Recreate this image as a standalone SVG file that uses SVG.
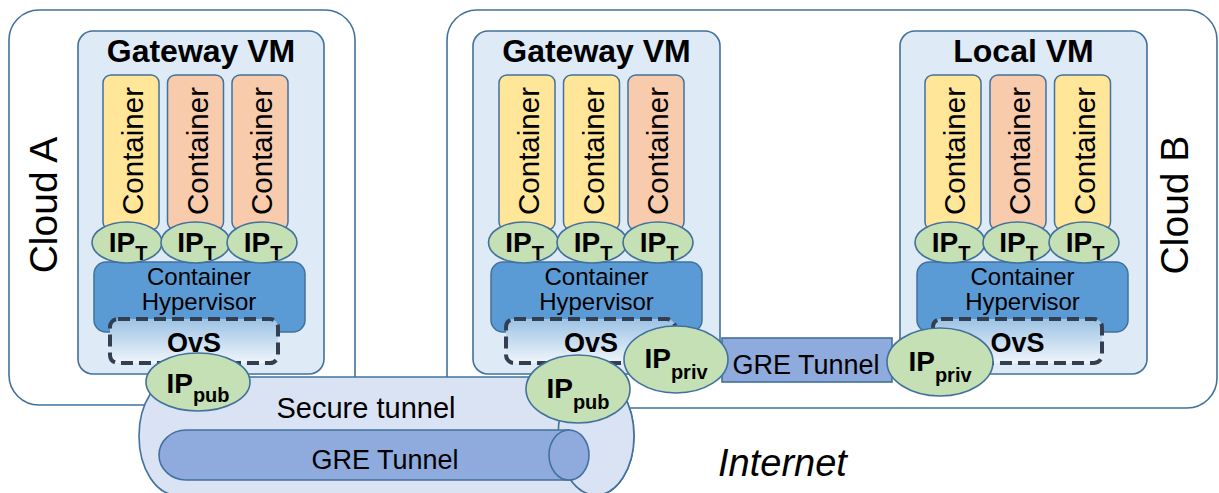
<svg xmlns="http://www.w3.org/2000/svg" width="1219" height="493" viewBox="0 0 1219 493">
<style>
text{font-family:"Liberation Sans",Arial,sans-serif;fill:#000}
.cloud{fill:#fff;stroke:#41719c;stroke-width:1.6}
.vm{fill:#deebf7;stroke:#41719c;stroke-width:1.6}
.cy{fill:#ffe699;stroke:#41719c;stroke-width:1.5}
.co{fill:#f8cbad;stroke:#41719c;stroke-width:1.5}
.ip{fill:#c5e0b4;stroke:#41719c;stroke-width:1.6}
.hyp{fill:#5b9bd5;stroke:#41719c;stroke-width:1.5}
.ovs{fill:url(#ovsg);stroke:#333f50;stroke-width:4;stroke-dasharray:12 6}
.tun{fill:#dae3f3;stroke:#41719c;stroke-width:1.6}
.gre{fill:#8faadc;stroke:#41719c;stroke-width:1.6}
.title{font-size:32px;font-weight:bold;text-anchor:middle}
.ctxt{font-size:29.5px;text-anchor:middle}
.htxt{font-size:24px;text-anchor:middle}
.otxt{font-size:27px;font-weight:bold;text-anchor:middle}
.iptxt{font-size:28px;font-weight:bold;text-anchor:middle}
.sub{font-size:20px}
.cl{font-size:39px;text-anchor:middle}
.big{font-size:27px;text-anchor:middle}
</style>
<defs>
<linearGradient id="ovsg" x1="0" y1="0" x2="0" y2="1">
<stop offset="0" stop-color="#9cc2e5"/>
<stop offset="1" stop-color="#f0f5fb"/>
</linearGradient>
</defs>

<g id="cloud-a">
<rect class="cloud" x="9" y="10" width="346" height="395" rx="30"/>
<text class="cl" transform="translate(57,205) rotate(-90)">Cloud A</text>
</g>
<g id="cloud-b">
<rect class="cloud" x="447" y="10" width="770" height="398" rx="30"/>
<text class="cl" transform="translate(1188,205) rotate(-90)">Cloud B</text>
</g>

<g id="gateway-vm-a">
<rect class="vm" x="78" y="31" width="246" height="343" rx="15"/>
<text class="title" x="201" y="62">Gateway VM</text>
<rect class="cy" x="103" y="75" width="56" height="155" rx="8"/>
<rect class="co" x="167.5" y="75" width="56" height="155" rx="8"/>
<rect class="co" x="232" y="75" width="56" height="155" rx="8"/>
<text class="ctxt" transform="translate(143,151) rotate(-90)">Container</text>
<text class="ctxt" transform="translate(207.5,151) rotate(-90)">Container</text>
<text class="ctxt" transform="translate(272,151) rotate(-90)">Container</text>
<rect class="hyp" x="94" y="262" width="211" height="70" rx="12"/>
<text class="htxt" x="199" y="285">Container</text>
<text class="htxt" x="199" y="310">Hypervisor</text>
<ellipse class="ip" cx="127" cy="242.5" rx="35" ry="20.5"/>
<ellipse class="ip" cx="195.5" cy="242.5" rx="34.5" ry="20.5"/>
<ellipse class="ip" cx="262" cy="242.5" rx="35" ry="20.5"/>
<text class="iptxt" x="128" y="252">IP<tspan class="sub" dy="8">T</tspan></text>
<text class="iptxt" x="196.5" y="252">IP<tspan class="sub" dy="8">T</tspan></text>
<text class="iptxt" x="263" y="252">IP<tspan class="sub" dy="8">T</tspan></text>
<rect class="ovs" x="110" y="319" width="168" height="44" rx="8"/>
<text class="otxt" x="194" y="352">OvS</text>
</g>

<g id="gateway-vm-b">
<rect class="vm" x="473" y="31" width="247" height="343" rx="15"/>
<text class="title" x="596.5" y="62">Gateway VM</text>
<rect class="cy" x="499" y="75" width="56" height="155" rx="8"/>
<rect class="cy" x="563.5" y="75" width="56" height="155" rx="8"/>
<rect class="co" x="628" y="75" width="56" height="155" rx="8"/>
<text class="ctxt" transform="translate(539,151) rotate(-90)">Container</text>
<text class="ctxt" transform="translate(603.5,151) rotate(-90)">Container</text>
<text class="ctxt" transform="translate(668,151) rotate(-90)">Container</text>
<rect class="hyp" x="491" y="262" width="211" height="70" rx="12"/>
<text class="htxt" x="596.5" y="285">Container</text>
<text class="htxt" x="596.5" y="310">Hypervisor</text>
<ellipse class="ip" cx="523.5" cy="242.5" rx="35" ry="20.5"/>
<ellipse class="ip" cx="592" cy="242.5" rx="35" ry="20.5"/>
<ellipse class="ip" cx="658" cy="242.5" rx="35" ry="20.5"/>
<text class="iptxt" x="524.5" y="252">IP<tspan class="sub" dy="8">T</tspan></text>
<text class="iptxt" x="593" y="252">IP<tspan class="sub" dy="8">T</tspan></text>
<text class="iptxt" x="659" y="252">IP<tspan class="sub" dy="8">T</tspan></text>
<rect class="ovs" x="506" y="319" width="169" height="44" rx="8"/>
<text class="otxt" x="591" y="352">OvS</text>
</g>

<g id="local-vm">
<rect class="vm" x="900" y="31" width="247" height="343" rx="15"/>
<text class="title" x="1023.5" y="62">Local VM</text>
<rect class="cy" x="925" y="75" width="56" height="155" rx="8"/>
<rect class="co" x="990" y="75" width="56" height="155" rx="8"/>
<rect class="cy" x="1054.5" y="75" width="56" height="155" rx="8"/>
<text class="ctxt" transform="translate(965,151) rotate(-90)">Container</text>
<text class="ctxt" transform="translate(1030,151) rotate(-90)">Container</text>
<text class="ctxt" transform="translate(1094.5,151) rotate(-90)">Container</text>
<rect class="hyp" x="917" y="262" width="211" height="70" rx="12"/>
<text class="htxt" x="1022.5" y="285">Container</text>
<text class="htxt" x="1022.5" y="310">Hypervisor</text>
<ellipse class="ip" cx="950" cy="242.5" rx="35" ry="20.5"/>
<ellipse class="ip" cx="1017.5" cy="242.5" rx="34.5" ry="20.5"/>
<ellipse class="ip" cx="1084" cy="242.5" rx="35" ry="20.5"/>
<text class="iptxt" x="951" y="252">IP<tspan class="sub" dy="8">T</tspan></text>
<text class="iptxt" x="1018.5" y="252">IP<tspan class="sub" dy="8">T</tspan></text>
<text class="iptxt" x="1085" y="252">IP<tspan class="sub" dy="8">T</tspan></text>
<rect class="ovs" x="933" y="319" width="169" height="44" rx="8"/>
<text class="otxt" x="1017.5" y="352">OvS</text>
</g>

<g id="connectors">
<g id="secure-tunnel">
<path class="tun" d="M177,377 L596,377 A38,59 0 0 1 596,495 L177,495 A38,59 0 0 1 177,377 Z"/>
<ellipse class="tun" cx="596" cy="436" rx="38" ry="59"/>
<text class="big" x="366" y="418" style="font-size:29px">Secure tunnel</text>
<path class="gre" d="M186,430 L569,430 L569,480 L186,480 A27,25 0 0 1 186,430 Z"/>
<ellipse class="gre" cx="569" cy="455" rx="20" ry="25"/>
<text class="big" x="385" y="469">GRE Tunnel</text>
</g>
<g id="gre-tunnel">
<rect class="gre" x="722" y="338" width="170" height="44"/>
<text class="big" x="806" y="374">GRE Tunnel</text>
</g>
</g>

<g id="ip-pub-a">
<ellipse class="ip" cx="198" cy="382" rx="52" ry="29"/>
<text class="iptxt" x="198" y="393">IP<tspan class="sub" dy="9">pub</tspan></text>
</g>
<g id="ip-pub-b">
<ellipse class="ip" cx="578" cy="389" rx="52" ry="34"/>
<text class="iptxt" x="578" y="398">IP<tspan class="sub" dy="11">pub</tspan></text>
</g>
<g id="ip-priv-b-gw">
<ellipse class="ip" cx="676" cy="359.5" rx="52" ry="33.5"/>
<text class="iptxt" x="676" y="368">IP<tspan class="sub" dy="11">priv</tspan></text>
</g>
<g id="ip-priv-local">
<ellipse class="ip" cx="940" cy="362" rx="53" ry="34"/>
<text class="iptxt" x="940" y="371">IP<tspan class="sub" dy="11">priv</tspan></text>
</g>

<text id="internet" x="718" y="476" style="font-size:38px;font-style:italic">Internet</text>
</svg>
